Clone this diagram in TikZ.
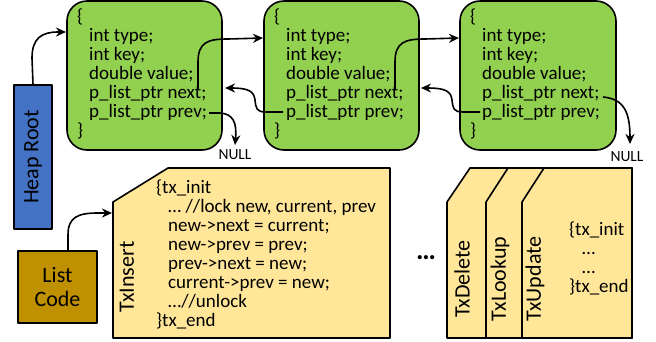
\documentclass[tikz,border=0pt]{standalone}
\usepackage{fontspec}
\setmainfont{Carlito}
\usetikzlibrary{arrows.meta}
\definecolor{gfill}{HTML}{92D050}
\definecolor{bfill}{HTML}{4472C4}
\definecolor{ofill}{HTML}{BF9000}
\definecolor{yfill}{HTML}{FFE699}
\begin{document}
\begin{tikzpicture}[x=1pt,y=-1pt,line join=round,
  gbox/.style={draw,line width=1.6pt,fill=gfill,rounded corners=20pt,minimum width=155pt,minimum height=149pt,inner sep=0},
  sbox/.style={draw,line width=1.6pt,inner sep=0},
  shp/.style={draw,line width=1.6pt,fill=yfill},
  code/.style={font=\fontsize{19}{19}\selectfont,align=left,anchor=north west,inner sep=0},
  lab/.style={font=\fontsize{22}{24}\selectfont,inner sep=0,align=center},
  nul/.style={font=\fontsize{15.5}{16}\selectfont,inner sep=0},
  arr/.style={line width=1.6pt,-{Stealth[length=10pt,width=9pt]}}]
\useasboundingbox (0,0) rectangle (656,341);
% green list nodes
\node[gbox] (b1) at (144.5,75.5) {};
\node[gbox] (b2) at (341.5,75.5) {};
\node[gbox,minimum width=156pt] (b3) at (538,75.5) {};
\node[code] (t1) at (77,9) {\{\\\hspace*{12pt}int type;\\\hspace*{12pt}int key;\\\hspace*{12pt}double value;\\\hspace*{12pt}p\_list\_ptr next;\\\hspace*{12pt}p\_list\_ptr prev;\\\}};
\node[code] (t2) at (274,9) {\{\\\hspace*{12pt}int type;\\\hspace*{12pt}int key;\\\hspace*{12pt}double value;\\\hspace*{12pt}p\_list\_ptr next;\\\hspace*{12pt}p\_list\_ptr prev;\\\}};
\node[code] (t3) at (470,9) {\{\\\hspace*{12pt}int type;\\\hspace*{12pt}int key;\\\hspace*{12pt}double value;\\\hspace*{12pt}p\_list\_ptr next;\\\hspace*{12pt}p\_list\_ptr prev;\\\}};
% heap root and list code
\node[sbox,fill=bfill,minimum width=38pt,minimum height=144pt] (hr) at (33,157) {};
\node[lab,rotate=90] (hrl) at (hr.center) {Heap Root};
\node[sbox,fill=ofill,minimum width=79pt,minimum height=72pt] (lc) at (57.5,287) {};
\node[lab] (lcl) at (lc.center) {List\\Code};
% transaction shapes
\draw[shp] (113,202) -- (168,168) -- (390,168) -- (390,338) -- (113,338) -- cycle;
\draw[shp] (447,202) -- (470,168) -- (632,168) -- (632,338) -- (447,338) -- cycle;
\draw[shp] (486,202) -- (508,168) -- (632,168) -- (632,338) -- (486,338) -- cycle;
\draw[shp] (522,202) -- (544,168) -- (632,168) -- (632,338) -- (522,338) -- cycle;
\node[lab,rotate=90] (txi) at (127,277) {TxInsert};
\node[lab,rotate=90] (txd) at (462,279) {TxDelete};
\node[lab,rotate=90] (txl) at (500,279) {TxLookup};
\node[lab,rotate=90] (txu) at (535,279) {TxUpdate};
\node[code] (ci) at (156,180) {\{tx\_init\\\hspace*{12pt}… //lock new, current, prev\\\hspace*{12pt}new->next = current;\\\hspace*{12pt}new->prev = prev;\\\hspace*{12pt}prev->next = new;\\\hspace*{12pt}current->prev = new;\\\hspace*{12pt}…//unlock\\\}tx\_end};
\node[code] (cu) at (569,222) {\{tx\_init\\\hspace*{13pt}…\\\hspace*{13pt}…\\\}tx\_end};
\node[font=\bfseries\fontsize{28}{28}\selectfont,inner sep=0] (dots) at (426,258) {…};
\node[nul] (n1) at (235,155) {NULL};
\node[nul] (n2) at (627,157) {NULL};
% coordinates for connector ends
\coordinate (hrin) at (66,32);
\coordinate (lcin) at (112,213);
\coordinate (b1n) at (198,90);
\coordinate (b2in) at (263,38);
\coordinate (b2n) at (395,90);
\coordinate (b3in) at (459,38);
\coordinate (b2p) at (283,112);
\coordinate (b1pin) at (225,88);
\coordinate (b3p) at (480,112);
\coordinate (b2pin) at (421,88);
\coordinate (b1p) at (209,113);
\coordinate (b3n) at (603,97);
% connectors
\draw[arr] (hr.north) -- (32,58) .. controls (32,38) and (42,32) .. (58,32) -- (hrin);
\draw[arr] (lc.north -| 68,0) -- (68,235) .. controls (68,217) and (78,213) .. (98,213) -- (lcin);
\draw[arr] (b1n) -- (198,62) .. controls (198,42) and (208,39) .. (228,39) -- (b2in);
\draw[arr] (b2n) -- (395,62) .. controls (395,42) and (405,39) .. (425,39) -- (b3in);
\draw[arr] (b2p) -- (266,112) .. controls (256,112) and (256,108) .. (255,100) .. controls (254,91) and (248,88) .. (b1pin);
\draw[arr] (b3p) -- (463,112) .. controls (453,112) and (453,108) .. (452,100) .. controls (451,91) and (445,88) .. (b2pin);
\draw[arr] (b1p) -- (220,113) .. controls (233,114) and (237,122) .. (n1.north |- 0,145);
\draw[arr] (b3n) .. controls (624,99) and (630,112) .. (630,144);
\end{tikzpicture}
\end{document}
